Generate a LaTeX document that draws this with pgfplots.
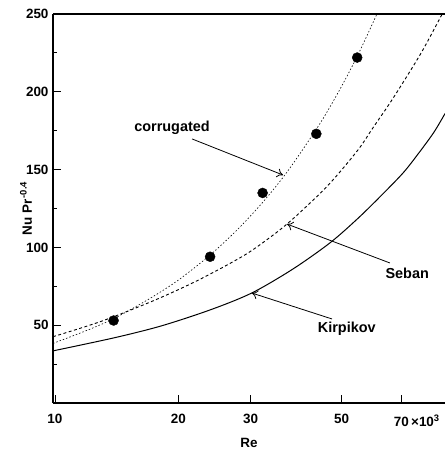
\documentclass[border=0pt]{standalone}
\usepackage{fontspec}
\setmainfont{Liberation Sans}
\usepackage{pgfplots}
\pgfplotsset{compat=1.18}
\usetikzlibrary{arrows.meta}

\begin{document}
\begin{tikzpicture}
\begin{axis}[
  at={(0,0)}, anchor=south west,
  scale only axis, width=392bp, height=389bp,
  xmode=log, xmin=9.89, xmax=89.4,
  ymin=0, ymax=250,
  xtick={10,20,30,50,70},
  xticklabels={10,20,30,50,{70\rlap{\,×10\textsuperscript{3}}}},
  minor xtick={},
  ytick={50,100,150,200,250},
  minor ytick={25,75,125,175,225},
  axis x line*=bottom, axis y line*=left,
  axis line style={line width=1.1pt, -},
  tick style={black, line width=0.8pt},
  major tick length=8bp, minor tick length=4bp,
  tick align=inside,
  /pgf/number format/assume math mode=true,
  tick label style={font=\fontsize{13.5}{15}\selectfont\bfseries},
  xticklabel style={yshift=-8bp},
  yticklabel style={xshift=-1bp},
  xlabel={Re},
  ylabel={Nu Pr\textsuperscript{\,-0.4}},
  every axis x label/.style={at={(axis description cs:0.5,-0.103)}, anchor=center,
    font=\fontsize{13.5}{15}\selectfont\bfseries},
  every axis y label/.style={at={(axis description cs:-0.069,0.5)}, anchor=center, rotate=90,
    font=\fontsize{13.5}{15}\selectfont\bfseries},
  clip=true,
]
% frame line along the top
\draw[line width=1.1pt] (rel axis cs:0,1) -- (rel axis cs:1,1);

% corrugated channel, fitted curve
\addplot[black, line width=0.6pt, dash pattern=on 1.5pt off 2pt, smooth] coordinates {
  (9.89,38.3) (12,46.8) (14,54.6) (17,67) (20,79) (24,95.5) (28,112)
  (32,128.5) (36,145) (40,162) (45,182.5) (50,203.5) (55,224.5) (61,250)
};
% Seban correlation
\addplot[black, line width=0.9pt, dash pattern=on 3pt off 2.5pt, smooth] coordinates {
  (9.89,42.6) (13,52.6) (17.3,65.5) (21.6,77) (26,88) (30.2,98) (36.8,115)
  (46,139) (54.6,162) (59.7,177) (65.7,193) (72.2,210) (79,227) (88,250)
};
% Kirpikov correlation
\addplot[black, line width=1pt, smooth] coordinates {
  (9.89,33.5) (14,42) (18.2,49.6) (24,60) (30.2,70.7) (38,86) (46.9,103)
  (55,119) (63.4,135) (71,148.5) (77.6,161.5) (84,174) (89.4,186)
};
% measured data
\addplot[only marks, mark=*, mark size=5bp, black] coordinates {
  (13.9,53) (23.9,94) (32.1,135) (43.4,173) (54.6,222)
};

% curve labels with pointers
\node[font=\fontsize{14.5}{16}\selectfont\bfseries] at (axis cs:19.3,177) {corrugated};
\draw[-{To[length=6bp,width=9bp]}, line width=0.8pt] (axis cs:21.6,169.7) -- (axis cs:36,146.5);

\node[font=\fontsize{14.5}{16}\selectfont\bfseries] at (axis cs:72.3,83.5) {Seban};
\draw[-{To[length=6bp,width=9bp]}, line width=0.8pt] (axis cs:65.6,90) -- (axis cs:36.8,115);

\node[font=\fontsize{14.5}{16}\selectfont\bfseries] at (axis cs:51.5,47.6) {Kirpikov};
\draw[-{To[length=6bp,width=9bp]}, line width=0.8pt] (axis cs:47.4,54) -- (axis cs:30.2,70.7);
\end{axis}
\pgfresetboundingbox
\path[use as bounding box] (-53bp,-50bp) rectangle (392bp,403bp);
\end{tikzpicture}
\end{document}
